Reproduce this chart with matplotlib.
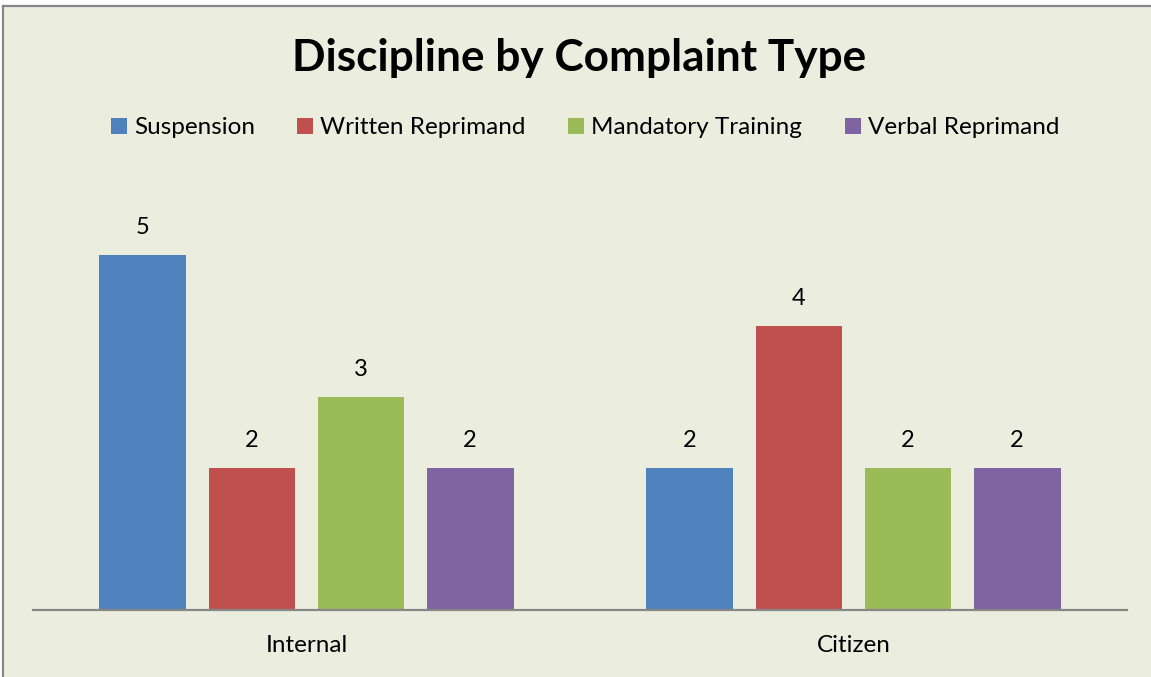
import numpy as np
import matplotlib.pyplot as plt
from matplotlib.patches import Patch
from matplotlib.lines import Line2D

plt.rcParams['font.family'] = ['Lato', 'DejaVu Sans']

categories = ['Internal', 'Citizen']
series = ['Suspension', 'Written Reprimand', 'Mandatory Training', 'Verbal Reprimand']
values = {
    'Suspension': [5, 2],
    'Written Reprimand': [2, 4],
    'Mandatory Training': [3, 2],
    'Verbal Reprimand': [2, 2],
}
colors = ['#4F81BD', '#C0504D', '#9BBB59', '#8064A2']
bg = '#EBEEDF'

W, H = 1151, 677
fig = plt.figure(figsize=(W / 100, H / 100), dpi=100, facecolor='white')

# chart area background + left/top border like the Excel export
fig.patches.append(plt.Rectangle((3 / W, 0), 1, 1 - 6 / H, transform=fig.transFigure,
                                 facecolor=bg, edgecolor='none', zorder=-2))
fig.add_artist(Line2D([3 / W, 1], [1 - 6 / H, 1 - 6 / H], color='#878787', lw=1.6))
fig.add_artist(Line2D([3 / W, 3 / W], [0, 1 - 6 / H], color='#878787', lw=1.6))

ax = fig.add_axes([33 / W, (H - 610) / H, 1094 / W, (610 - 184) / H])
ax.set_facecolor(bg)

x = np.arange(len(categories))
width = 0.159
step = 0.1993
for i, (name, c) in enumerate(zip(series, colors)):
    offs = (i - 1.5) * step
    bars = ax.bar(x + offs, values[name], width, color=c, label=name, zorder=2)
    ax.bar_label(bars, padding=12, fontsize=17)

ax.set_xlim(-0.5, 1.5)
ax.set_ylim(0, 6)
ax.set_xticks(x)
ax.set_xticklabels(categories, fontsize=17.5)
ax.tick_params(axis='x', length=0, pad=18)
ax.set_yticks([])
for s in ['top', 'right', 'left']:
    ax.spines[s].set_visible(False)
ax.spines['bottom'].set_color('#878787')
ax.spines['bottom'].set_linewidth(1.6)

fig.text(579 / W, 1 - 58 / H, 'Discipline by Complaint Type', ha='center', va='center',
         fontsize=31.8, fontweight='bold')

handles = [Patch(facecolor=c, edgecolor='none') for c in colors]
fig.legend(handles, series, loc='center', bbox_to_anchor=(585 / W, 1 - 128 / H), ncol=4,
           frameon=False, fontsize=17.5, handlelength=0.65, handleheight=0.65,
           handletextpad=0.3, columnspacing=1.75)

fig.savefig('out.png', dpi=100, facecolor='white')
